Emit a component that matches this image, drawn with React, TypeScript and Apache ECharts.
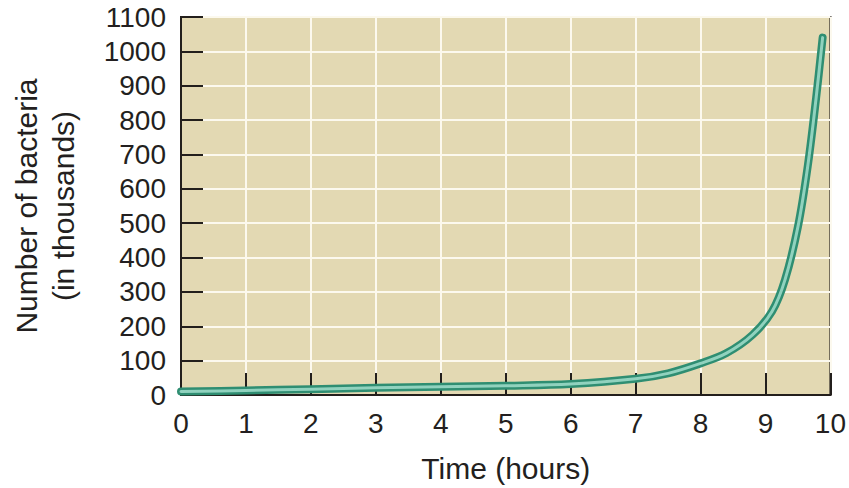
import React, { useEffect, useRef } from "react";
import * as echarts from "echarts";

const hours = [0, 1, 2, 3, 4, 5, 6, 7, 7.5, 8, 8.4, 8.8, 9.1, 9.3, 9.5, 9.65, 9.78, 9.88];
const bacteria = [10, 13, 17, 21, 24, 27, 32, 47, 63, 92, 122, 175, 243, 335, 490, 665, 865, 1040];
const xTicks = [0, 1, 2, 3, 4, 5, 6, 7, 8, 9, 10];
const yTicks = [0, 100, 200, 300, 400, 500, 600, 700, 800, 900, 1000, 1100];
const xTitle = "Time (hours)";
const yTitle = "Number of bacteria\n(in thousands)";

const FONT = "'Liberation Sans', Arial, Helvetica, sans-serif";

export default function App() {
  const ref = useRef<HTMLDivElement>(null);
  useEffect(() => {
    document.body.style.margin = "0";
    if (!ref.current) return;
    const chart = echarts.init(ref.current, undefined, { renderer: "svg" });
    const pts = hours.map((h, i) => [h, bacteria[i]]);
    chart.setOption({
      animation: false,
      backgroundColor: "#ffffff",
      grid: {
        left: 181,
        right: 18,
        top: 17,
        bottom: 91,
        show: true,
        backgroundColor: "#e3d9b3",
        borderColor: "#231f1c",
        borderWidth: 2,
      },
      xAxis: {
        type: "value",
        min: xTicks[0],
        max: xTicks[xTicks.length - 1],
        interval: 1,
        name: xTitle,
        nameLocation: "middle",
        nameGap: 58,
        nameTextStyle: { fontSize: 30, color: "#231f20", fontFamily: FONT },
        axisLine: { show: true, lineStyle: { color: "#231f1c", width: 2 } },
        axisTick: { show: true, inside: true, length: 22, lineStyle: { color: "#231f1c", width: 2 } },
        axisLabel: { fontSize: 28, color: "#231f20", fontFamily: FONT, margin: 14, formatter: (v: number) => String(v) },
        splitLine: { show: true, lineStyle: { color: "#fcf9ee", width: 2 } },
      },
      yAxis: {
        type: "value",
        min: yTicks[0],
        max: yTicks[yTicks.length - 1],
        interval: 100,
        name: yTitle,
        nameLocation: "middle",
        nameGap: 99,
        nameRotate: 90,
        nameTextStyle: { fontSize: 30, color: "#231f20", fontFamily: FONT, lineHeight: 37 },
        axisLine: { show: true, lineStyle: { color: "#231f1c", width: 2 } },
        axisTick: { show: true, inside: true, length: 22, lineStyle: { color: "#231f1c", width: 2 } },
        axisLabel: { fontSize: 28, color: "#231f20", fontFamily: FONT, margin: 15, formatter: (v: number) => String(v) },
        splitLine: { show: true, lineStyle: { color: "#fcf9ee", width: 2 } },
      },
      series: [
        {
          type: "line",
          data: pts,
          smooth: 0.35,
          showSymbol: false,
          lineStyle: { color: "#2f8e72", width: 8, cap: "round", join: "round" },
          silent: true,
        },
        {
          type: "line",
          data: pts,
          smooth: 0.35,
          showSymbol: false,
          lineStyle: { color: "#90d2be", width: 3, cap: "round", join: "round" },
          silent: true,
        },
      ],
    });
    return () => chart.dispose();
  }, []);
  return <div ref={ref} style={{ width: 849, height: 488 }} />;
}
